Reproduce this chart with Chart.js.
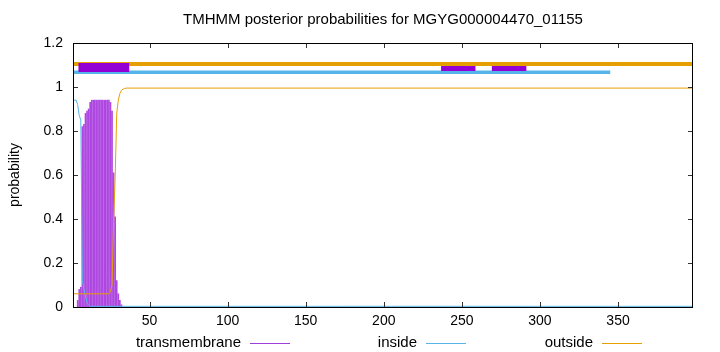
<!DOCTYPE html>
<html>
<head>
<meta charset="utf-8">
<script src="https://cdn.jsdelivr.net/npm/chart.js@4"></script>
<style>html, body { margin: 0; background: #fff; }</style>
</head>
<body>
<canvas id="chart" width="720" height="352"></canvas>
<script>
// posterior probabilities per residue (sequence length 398)
const tmResidues = [4, 5, 6, 7, 8, 9, 10, 11, 12, 13, 14, 15, 16, 17, 18, 19, 20, 21, 22, 23, 24, 25, 26, 27, 28, 29, 30, 31, 32];
const tmProb = [0.03, 0.08, 0.09, 0.82, 0.83, 0.88, 0.89, 0.9, 0.93, 0.94, 0.94, 0.94, 0.94, 0.94, 0.94, 0.94, 0.94, 0.94, 0.94, 0.94, 0.94, 0.93, 0.89, 0.61, 0.41, 0.12, 0.06, 0.03, 0.01];

const insideResidues = [1, 3, 4, 5, 6, 7, 8, 9, 10, 11, 12, 398];
const insideProb = [0.94, 0.94, 0.92, 0.87, 0.85, 0.12, 0.08, 0.05, 0.02, 0.01, 0.003, 0.003];

const outsideResidues = [1, 24, 25, 26, 27, 28, 29, 30, 31, 32, 33, 34, 35, 398];
const outsideProb = [0.06, 0.06, 0.07, 0.1, 0.39, 0.59, 0.88, 0.94, 0.97, 0.985, 0.99, 0.993, 0.995, 0.995];

// predicted topology drawn along the top
const outsideSpan = [1, 420];
const insideSpan = [1, 345];
const tmSpans = [[4.5, 37], [236.7, 258.7], [269.2, 291.3]];

const xTicks = [50, 100, 150, 200, 250, 300, 350];
const yTicks = [0, 0.2, 0.4, 0.6, 0.8, 1, 1.2];
const legendLabels = ['transmembrane', 'inside', 'outside'];

const PURPLE = '#9400d3', BLUE = '#56b4e9', ORANGE = '#e69f00';
const FONT = 'Liberation Sans, Arial, sans-serif';

const pts = (xs, ys) => xs.map((x, i) => ({ x, y: ys[i] }));
const flat = (span, y) => span.map(x => ({ x, y }));

const bar = (data, color, width, order) => ({
  type: 'line', data, borderColor: color, borderWidth: width, borderCapStyle: 'butt',
  pointRadius: 0, fill: false, order,
});

const frame = {
  id: 'frame',
  afterDatasetsDraw(chart) {
    const { ctx, chartArea: a, scales: { x, y } } = chart;
    ctx.save();
    ctx.strokeStyle = '#333';
    ctx.lineWidth = 1;
    ctx.beginPath();
    xTicks.forEach(v => {
      const px = Math.round(x.getPixelForValue(v)) + 0.5;
      ctx.moveTo(px, a.bottom); ctx.lineTo(px, a.bottom - 5);
      ctx.moveTo(px, a.top); ctx.lineTo(px, a.top + 5);
    });
    yTicks.forEach(v => {
      const py = Math.round(y.getPixelForValue(v)) + 0.5;
      ctx.moveTo(a.left, py); ctx.lineTo(a.left + 5, py);
      ctx.moveTo(a.right, py); ctx.lineTo(a.right - 5, py);
    });
    ctx.stroke();
    ctx.strokeStyle = '#000';
    ctx.strokeRect(a.left + 0.5, a.top + 0.5, a.right - a.left - 1, a.bottom - a.top);
    ctx.restore();
  },
  afterDraw(chart) {
    const { ctx } = chart;
    const colors = ['#a040d8', BLUE, ORANGE];
    const textRight = [241, 417, 593];
    ctx.save();
    ctx.font = '15px ' + FONT;
    ctx.fillStyle = '#000';
    ctx.textAlign = 'right';
    ctx.textBaseline = 'middle';
    legendLabels.forEach((label, i) => {
      ctx.fillText(label, textRight[i], 343);
      ctx.strokeStyle = colors[i];
      ctx.lineWidth = 1;
      ctx.beginPath();
      ctx.moveTo(textRight[i] + 9, 343.5);
      ctx.lineTo(textRight[i] + 49, 343.5);
      ctx.stroke();
    });
    ctx.restore();
  },
};

new Chart(document.getElementById('chart'), {
  type: 'line',
  data: {
    datasets: [
      bar(flat(outsideSpan, 1.105), ORANGE, 4, 6),
      ...tmSpans.map((s, i) => bar(flat(s, i === 0 ? 1.0886 : 1.084), PURPLE, i === 0 ? 9 : 5, 4)),
      bar(flat(insideSpan, 1.067), BLUE, 3.5, 5),
      {
        type: 'bar', label: 'transmembrane', data: pts(tmResidues, tmProb),
        backgroundColor: 'rgba(160, 40, 220, 0.85)', barThickness: 1, grouped: false, order: 3,
      },
      {
        type: 'line', label: 'inside', data: pts(insideResidues, insideProb),
        borderColor: BLUE, borderWidth: 1, pointRadius: 0, tension: 0, order: 2,
      },
      {
        type: 'line', label: 'outside', data: pts(outsideResidues, outsideProb),
        borderColor: ORANGE, borderWidth: 1, pointRadius: 0, tension: 0, order: 1,
      },
    ],
  },
  options: {
    responsive: false,
    animation: false,
    layout: { padding: { right: 27 } },
    plugins: {
      legend: { display: false },
      tooltip: { enabled: false },
      title: {
        display: true,
        fullSize: false,
        text: 'TMHMM posterior probabilities for MGYG000004470_01155',
        color: '#000',
        font: { family: FONT, size: 15, weight: 'normal' },
        padding: { top: 11, bottom: 14 },
      },
    },
    scales: {
      x: {
        type: 'linear', min: 1, max: 398, offset: false,
        grid: { display: false, drawTicks: false },
        border: { display: false },
        ticks: { color: '#000', font: { family: FONT, size: 14 }, padding: 6, maxRotation: 0, autoSkip: false },
        afterBuildTicks: s => { s.ticks = xTicks.map(value => ({ value })); },
        afterFit: s => { s.height = 45; },
      },
      y: {
        min: 0, max: 1.2,
        grid: { display: false, drawTicks: false },
        border: { display: false },
        ticks: { color: '#000', font: { family: FONT, size: 14 }, padding: 10, callback: v => String(v) },
        afterBuildTicks: s => { s.ticks = yTicks.map(value => ({ value })); },
        afterFit: s => { s.width = 73; },
        title: { display: true, text: 'probability', color: '#000', font: { family: FONT, size: 14 }, padding: { top: 7, bottom: 0 } },
      },
    },
  },
  plugins: [frame],
});
</script>
</body>
</html>
